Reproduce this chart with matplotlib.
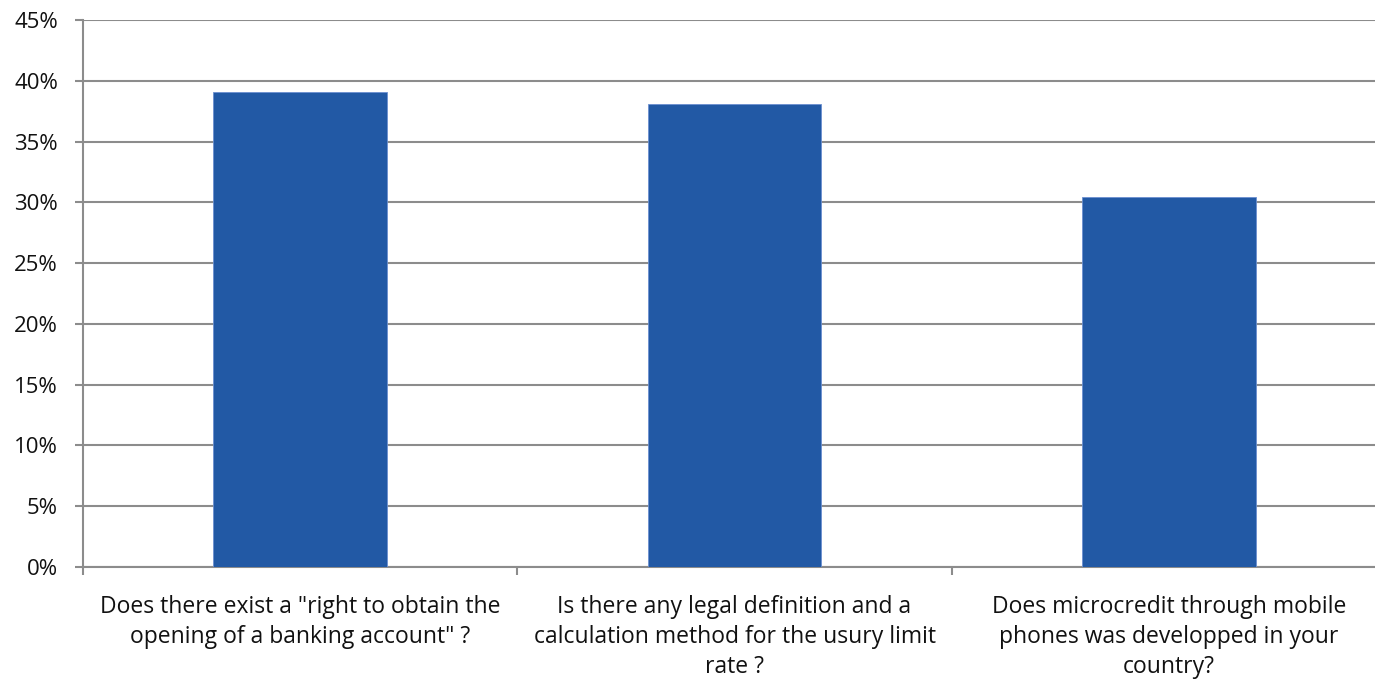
import matplotlib
matplotlib.use("Agg")
from matplotlib import pyplot as plt
from matplotlib.ticker import FuncFormatter

# data
questions = [
    'Does there exist a "right to obtain the\nopening of a banking account" ?',
    'Is there any legal definition and a\ncalculation method for the usury limit\nrate ?',
    'Does microcredit through mobile\nphones was developped in your\ncountry?',
]
shares = [0.391, 0.381, 0.304]
y_ticks = [0.0, 0.05, 0.10, 0.15, 0.20, 0.25, 0.30, 0.35, 0.40, 0.45]

plt.rcParams['font.family'] = ['Open Sans', 'DejaVu Sans']

W, H = 1375, 679
fig = plt.figure(figsize=(W / 100, H / 100), dpi=100)
# axes runs past the right edge, as in the reference
ax = fig.add_axes([83 / W, (H - 567) / H, 1303 / W, 547 / H])

grid_col = '#8c8c8c'
pos = list(range(len(questions)))
ax.bar(pos, shares, width=0.4, color='#2259a5', edgecolor='#6b8fd0',
       linewidth=0.6, zorder=3)

ax.set_xlim(-0.5, len(questions) - 0.5)
ax.set_ylim(0, 0.45)
ax.set_yticks(y_ticks)
ax.yaxis.set_major_formatter(FuncFormatter(lambda v, p: '%d%%' % round(v * 100)))
ax.grid(axis='y', color=grid_col, linewidth=1.5, zorder=0)

ax.set_xticks(pos)
ax.set_xticklabels(questions, fontsize=16.5, color='#111111', linespacing=1.33,
                   va='top')
ax.set_xticks([p - 0.5 for p in range(len(questions) + 1)], minor=True)
ax.tick_params(axis='x', which='major', length=0, pad=20)
ax.tick_params(axis='x', which='minor', length=6, width=1.5, color=grid_col)
ax.tick_params(axis='y', length=6, width=1.5, color=grid_col,
               labelsize=16, labelcolor='#111111', pad=12)

for s in ['top', 'right']:
    ax.spines[s].set_visible(False)
for s in ['left', 'bottom']:
    ax.spines[s].set_color(grid_col)
    ax.spines[s].set_linewidth(1.5)

fig.savefig('out.png', dpi=100)
